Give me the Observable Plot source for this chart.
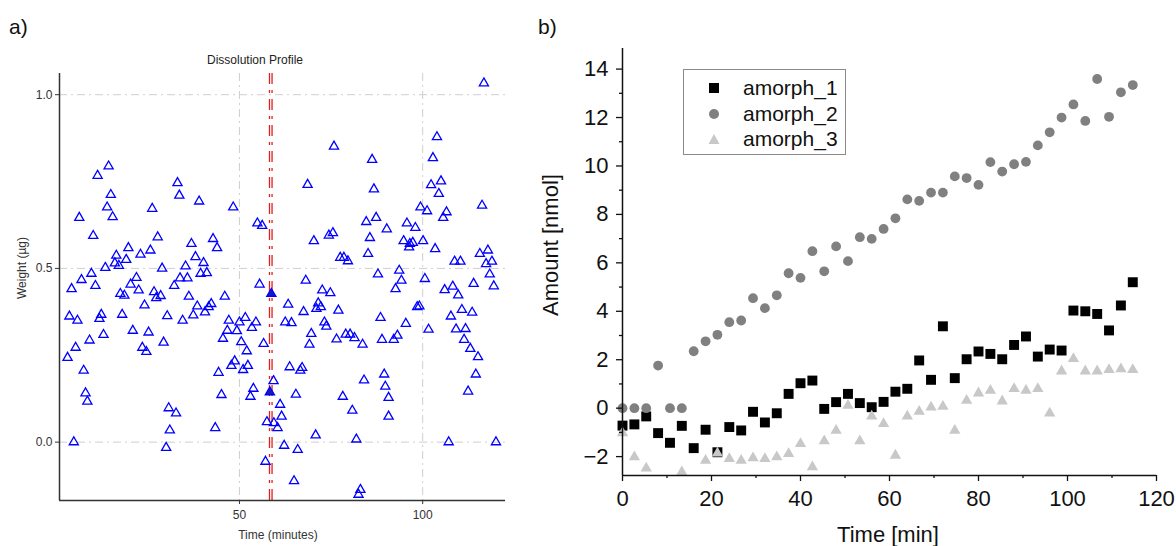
<!DOCTYPE html>
<html><head><meta charset="utf-8">
<script src="https://cdn.jsdelivr.net/npm/d3@7"></script>
<script src="https://cdn.jsdelivr.net/npm/@observablehq/plot@0.6"></script>
<style>
body{margin:0;background:#fff;width:1176px;height:546px;position:relative;overflow:hidden;font-family:"Liberation Sans",Arial,sans-serif}
.abs{position:absolute;white-space:nowrap;line-height:1}
.c{transform:translate(-50%,-50%)}
.r{transform:translate(-50%,-50%) rotate(-90deg)}
#legend{position:absolute;left:683px;top:69px;width:163px;height:86px;border:1px solid #8a8a8a;box-sizing:border-box;background:#fff}
#legend .row{position:absolute;left:0;height:26px;display:flex;align-items:center;font-size:21px;color:#111}
#legend svg{margin-left:24px;margin-right:23px}
</style></head><body>
<div id="a" class="abs" style="left:0;top:0"></div>
<div id="b" class="abs" style="left:530px;top:0"></div>

<div class="abs" style="left:9px;top:16px;font-size:21px;color:#111">a)</div>
<div class="abs" style="left:538px;top:16px;font-size:21px;color:#111">b)</div>
<div class="abs c" style="left:255px;top:60px;font-size:12px;color:#222">Dissolution Profile</div>
<div class="abs r" style="left:22px;top:268px;font-size:12px;color:#333">Weight (µg)</div>
<div class="abs c" style="left:278px;top:535px;font-size:12px;color:#333">Time (minutes)</div>
<div class="abs r" style="left:551px;top:245px;font-size:22px;color:#111">Amount [nmol]</div>
<div class="abs c" style="left:888px;top:535px;font-size:22px;color:#111">Time [min]</div>

<div id="legend">
  <div class="row" style="top:5px"><svg width="12" height="12"><rect x="1" y="1" width="10" height="10" fill="#000"/></svg>amorph_1</div>
  <div class="row" style="top:31px"><svg width="12" height="12"><circle cx="6" cy="6" r="5" fill="#808080"/></svg>amorph_2</div>
  <div class="row" style="top:56px"><svg width="12" height="12"><path d="M6,1 L11.5,11 L0.5,11 Z" fill="#c8c8c8"/></svg>amorph_3</div>
</div>

<script>
// ---------- Panel a: Dissolution Profile ----------
const dissTime = [
 14.3,11.3,14.9,13.9,15.4,6.3,26.2,10.1,27.7,19.7,23.0,25.7,16.4,19.1,16.0,17.1,13.4,28.9,9.6,6.9,4.2,10.7,21.9,20.3,22.5,17.5,18.6,26.7,27.3,28.5,24.1,3.6,5.8,12.3,11.8,18.0,30.3,20.9,25.2,12.9,9.1,5.3,3.1,29.3,23.5,24.6,7.5,8.0,8.5,30.7,4.8,31.0,30.0,
 33.1,33.6,39.0,48.3,54.9,56.2,36.9,42.8,43.9,38.0,40.2,35.3,39.4,41.1,33.8,35.8,32.2,55.5,36.2,46.0,38.5,42.3,41.6,37.4,40.6,34.5,47.1,50.0,51.6,54.5,53.4,46.7,49.3,45.5,50.5,52.0,56.6,48.7,47.8,52.3,51.0,44.3,59.3,53.8,53.0,45.1,32.7,43.4,57.5,59.4,60.4,57.1,
 75.8,86.2,68.6,86.7,84.6,87.3,90.2,74.4,75.5,70.3,85.6,85.1,77.5,78.5,79.6,87.8,68.1,72.6,74.8,63.3,67.5,71.5,71.0,72.2,77.0,88.5,62.5,64.2,73.2,73.7,69.6,69.1,76.5,79.0,80.2,81.4,83.6,88.9,63.7,66.6,67.1,84.0,89.5,89.8,90.7,65.4,78.2,80.8,61.1,61.5,90.7,70.8,81.9,62.2,65.9,64.9,83.0,82.5,
 116.7,103.9,102.8,102.3,105.0,104.4,99.4,101.2,106.5,105.6,116.2,95.7,98.0,94.8,96.5,97.3,96.3,100.1,103.4,115.6,117.8,117.3,118.9,108.7,110.3,93.6,94.2,92.6,100.6,118.3,119.4,113.9,106.0,108.2,109.7,98.5,99.1,107.7,110.7,113.5,95.4,93.1,92.1,101.6,109.1,111.7,111.3,113.0,115.1,114.5,112.4,107.1,120.0
];
const dissWeight = [
 0.794,0.767,0.712,0.676,0.648,0.646,0.672,0.594,0.590,0.559,0.540,0.552,0.537,0.525,0.515,0.508,0.502,0.500,0.485,0.467,0.441,0.450,0.473,0.454,0.437,0.427,0.422,0.432,0.415,0.421,0.394,0.362,0.350,0.367,0.355,0.367,0.363,0.321,0.316,0.309,0.293,0.272,0.243,0.287,0.272,0.260,0.206,0.141,0.117,0.098,0.000,0.034,-0.016,
 0.746,0.710,0.693,0.676,0.630,0.623,0.571,0.585,0.559,0.533,0.516,0.506,0.485,0.487,0.472,0.472,0.450,0.454,0.419,0.419,0.391,0.398,0.389,0.365,0.374,0.350,0.350,0.345,0.358,0.345,0.329,0.321,0.320,0.298,0.288,0.262,0.283,0.233,0.220,0.220,0.208,0.200,0.176,0.154,0.131,0.136,0.083,0.041,0.058,0.055,0.041,-0.056,
 0.851,0.813,0.741,0.728,0.634,0.646,0.613,0.595,0.602,0.579,0.588,0.542,0.531,0.531,0.521,0.483,0.465,0.437,0.429,0.396,0.375,0.400,0.384,0.389,0.379,0.358,0.345,0.343,0.345,0.333,0.312,0.281,0.296,0.310,0.310,0.300,0.281,0.295,0.216,0.206,0.214,0.178,0.195,0.160,0.128,0.137,0.131,0.091,0.108,0.074,0.074,0.020,0.008,-0.010,-0.022,-0.112,-0.137,-0.151,
 1.033,0.878,0.818,0.740,0.751,0.715,0.676,0.665,0.662,0.646,0.681,0.630,0.617,0.579,0.571,0.574,0.561,0.579,0.556,0.542,0.552,0.513,0.520,0.520,0.520,0.494,0.465,0.441,0.470,0.483,0.449,0.456,0.438,0.448,0.423,0.389,0.391,0.362,0.381,0.373,0.341,0.307,0.295,0.324,0.325,0.326,0.295,0.269,0.245,0.195,0.146,0.000,0.000
];
const selTime = [58.7, 58.3];
const selWeight = [0.427, 0.144];
const markerTimes = [58.2, 58.9];
const aXTicks = [50, 100];
const aYTicks = [0, 0.5, 1.0];
const aXDomain = [0.9, 122.6];
const aYDomain = [-0.168, 1.061];

// ---------- Panel b: amorph series ----------
const minutes = [0,2.67,5.33,8,10.67,13.33,16,18.67,21.33,24,26.67,29.33,32,34.67,37.33,40,42.67,45.33,48,50.67,53.33,56,58.67,61.33,64,66.67,69.33,72,74.67,77.33,80,82.67,85.33,88,90.67,93.33,96,98.67,101.33,104,106.67,109.33,112,114.67];
const amorph1 = [-0.72,-0.67,-0.34,-1.03,-1.43,-0.73,-1.65,-0.89,-1.82,-0.78,-0.92,-0.15,-0.59,-0.21,0.59,1.03,1.14,-0.03,0.25,0.59,0.21,0.04,0.26,0.68,0.80,1.97,1.17,3.38,1.24,2.02,2.34,2.24,2.02,2.61,2.96,2.13,2.42,2.38,4.03,4.00,3.89,3.21,4.24,5.20];
const amorph2 = [0,0,0,1.76,0,0,2.35,2.76,3.03,3.55,3.62,4.54,4.13,4.66,5.57,5.38,6.48,5.65,6.68,6.07,7.06,6.99,7.40,7.84,8.62,8.56,8.90,8.90,9.57,9.50,9.22,10.16,9.77,10.07,10.17,10.85,11.39,12.00,12.54,11.86,13.59,12.03,13.04,13.34];
const amorph3 = [-1.02,-2.02,-2.48,null,null,-2.64,null,-2.16,-1.86,-2.09,-2.16,-2.06,-2.09,-2.02,-1.88,-1.47,-2.43,-1.36,-0.92,0.11,-1.36,-0.33,-0.64,-1.95,-0.33,-0.14,0.04,0.07,-0.92,0.32,0.62,0.73,0.29,0.80,0.73,0.80,-0.21,1.53,2.04,1.53,1.53,1.59,1.62,1.59];
const bXTicks = [0,20,40,60,80,100,120];
const bXMinor = [10,30,50,70,90,110];
const bYTicks = [-2,0,2,4,6,8,10,12,14];
const bYMinor = [-1,1,3,5,7,9,11,13];
const bXDomain = [0, 120];
const bYDomain = [-2.78, 14.85];

const dissData = dissTime.map((t, i) => ({t, v: dissWeight[i]}));
const selData = selTime.map((t, i) => ({t, v: selWeight[i]}));
const toRows = arr => minutes.map((t, i) => ({t, v: arr[i]})).filter(d => d.v != null);

const gridStyle = {stroke: "#cfcfcf", strokeWidth: 1, strokeDasharray: "8,4,2,4"};

const plotA = Plot.plot({
  width: 520, height: 546,
  marginLeft: 59, marginRight: 15, marginTop: 73, marginBottom: 46,
  style: {fontFamily: "Liberation Sans, Arial, sans-serif", fontSize: "12px", color: "#333", background: "transparent"},
  x: {domain: aXDomain, label: null},
  y: {domain: aYDomain, label: null},
  marks: [
    Plot.ruleX(aXTicks, gridStyle),
    Plot.ruleY(aYTicks, gridStyle),
    Plot.ruleX(markerTimes, {stroke: "#e02020", strokeWidth: 1.3, strokeDasharray: "11,6,3,6"}),
    Plot.dot(dissData, {x: "t", y: "v", symbol: "triangle", r: 3.4, stroke: "#0000ff", strokeWidth: 1.3, fill: "none"}),
    Plot.dot(selData, {x: "t", y: "v", symbol: "triangle", r: 3.4, stroke: "#0000ff", strokeWidth: 1.3, fill: "#1a1ab8"}),
    Plot.ruleX([aXDomain[0]], {stroke: "#333", strokeWidth: 1.5}),
    Plot.ruleY([aYDomain[0]], {stroke: "#333", strokeWidth: 1.5}),
    Plot.axisX({ticks: aXTicks, tickSize: 4, tickPadding: 6, label: null, fontSize: 12}),
    Plot.axisY({ticks: aYTicks, tickSize: 4, tickPadding: 3, tickFormat: d3.format(".1f"), label: null, fontSize: 12})
  ]
});
document.getElementById("a").appendChild(plotA);

const plotB = Plot.plot({
  width: 646, height: 546,
  marginLeft: 92, marginRight: 20, marginTop: 48, marginBottom: 71,
  style: {fontFamily: "Liberation Sans, Arial, sans-serif", fontSize: "22px", color: "#111", background: "transparent"},
  x: {domain: bXDomain, label: null},
  y: {domain: bYDomain, label: null},
  marks: [
    Plot.dot(toRows(amorph1), {x: "t", y: "v", symbol: "square", r: 5.6, fill: "#000", stroke: "none"}),
    Plot.dot(toRows(amorph2), {x: "t", y: "v", symbol: "circle", r: 4.9, fill: "#808080", stroke: "none"}),
    Plot.dot(toRows(amorph3), {x: "t", y: "v", symbol: "triangle", r: 4.2, fill: "#c8c8c8", stroke: "none"}),
    Plot.ruleX([bXDomain[0]], {stroke: "#111", strokeWidth: 1.5}),
    Plot.ruleY([bYDomain[0]], {stroke: "#111", strokeWidth: 1.5}),
    Plot.axisX({ticks: bXTicks, tickSize: 6, tickPadding: 9, label: null, fontSize: 22, strokeWidth: 1.3}),
    Plot.axisX({ticks: bXMinor, tickSize: 3, tickFormat: () => "", label: null, strokeWidth: 1.3}),
    Plot.axisY({ticks: bYTicks, tickSize: 6, tickPadding: 8, label: null, fontSize: 22, strokeWidth: 1.3}),
    Plot.axisY({ticks: bYMinor, tickSize: 3, tickFormat: () => "", label: null, strokeWidth: 1.3})
  ]
});
document.getElementById("b").appendChild(plotB);
</script>
</body></html>
